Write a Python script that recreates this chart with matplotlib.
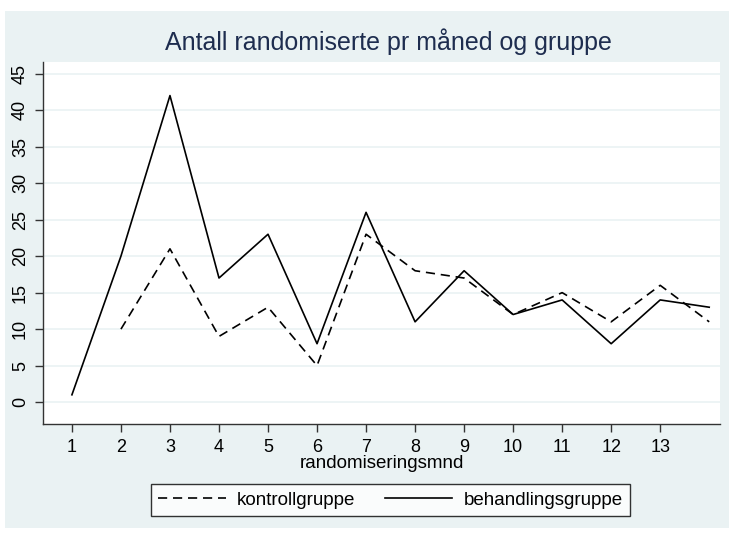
import numpy as np
import matplotlib
matplotlib.use("Agg")
import matplotlib.pyplot as plt
from matplotlib.patches import Rectangle

plt.rcParams['font.family'] = ['Liberation Sans', 'DejaVu Sans']

months = list(range(1, 15))
xtick_labels = [str(i) for i in range(1, 14)]
kontroll = [np.nan, 10, 21, 9, 13, 5, 23, 18, 17, 12, 15, 11, 16, 11]
behandling = [1, 20, 42, 17, 23, 8, 26, 11, 18, 12, 14, 8, 14, 13]
yticks = list(range(0, 50, 5))

BG = '#EAF2F3'
fig = plt.figure(figsize=(7.34, 5.33), dpi=100)
fig.patch.set_facecolor('white')
fig.add_artist(Rectangle((5/734, 5/533), 724/734, 517/533, transform=fig.transFigure,
                         facecolor=BG, edgecolor='none', zorder=-10))

ax = fig.add_axes([43/734, 1-424/533, (720-43)/734, (424-62)/533])
ax.set_facecolor('white')
ax.plot(months, kontroll, color='black', lw=1.2, linestyle=(0, (5.5, 3.5)), label='kontrollgruppe')
ax.plot(months, behandling, color='black', lw=1.2, label='behandlingsgruppe')

ax.set_xlim(0.41, 14.22)
ax.set_ylim(-3.0, 46.6)
ax.set_xticks(range(1, 14))
ax.set_xticklabels(xtick_labels, fontsize=13)
ax.set_yticks(yticks)
ax.set_yticklabels([str(v) for v in yticks], fontsize=13, rotation=90, va='center')
ax.grid(axis='y', color=BG, lw=1.2)
ax.set_axisbelow(True)
for s in ['top', 'right']:
    ax.spines[s].set_visible(False)
for s in ['left', 'bottom']:
    ax.spines[s].set_color('#333333')
    ax.spines[s].set_linewidth(1.0)
ax.tick_params(axis='both', direction='out', length=6, width=1, color='#333333', pad=5)
ax.tick_params(axis='y', pad=4)
ax.set_xlabel('randomiseringsmnd', fontsize=13.5, labelpad=-1)
fig.text(388/734, 1-50/533, 'Antall randomiserte pr måned og gruppe', fontsize=18,
         color='#1E2D4F', ha='center', va='baseline')

leg = fig.legend(loc='center', bbox_to_anchor=(390.5/734, 1-500/533), ncol=2, fontsize=13.5,
                 frameon=True, fancybox=False, edgecolor='black', handlelength=3.6,
                 handletextpad=0.6, columnspacing=1.55, borderpad=0.4)
leg.get_frame().set_linewidth(1.0)

fig.savefig('out.png', dpi=100, facecolor=fig.get_facecolor())
